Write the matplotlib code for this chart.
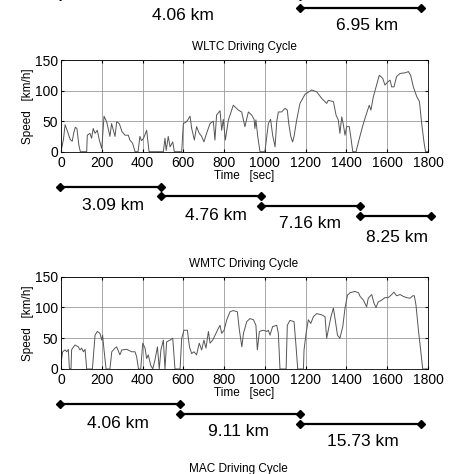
import numpy as np
import matplotlib.pyplot as plt
from matplotlib.lines import Line2D

plt.rcParams['font.family'] = ['Liberation Sans', 'DejaVu Sans']

# WLTC speed trace (sec, km/h)
wltc_t = [0, 12, 20, 30, 45, 55, 62, 70, 78, 88, 95, 126, 129, 142, 150, 158, 167, 178, 188, 200,
          211, 224, 240, 248, 265, 273, 286, 299, 314, 330, 338, 351, 363, 378, 387, 395, 405, 420, 432,
          502, 510, 516, 526, 535, 548, 556, 592, 600, 616, 633, 641, 654, 665, 678, 690, 701, 714, 731,
          747, 755, 763, 780, 788, 796, 806, 821, 845, 870, 886, 902, 919, 935, 947, 951, 956, 965, 976,
          1000, 1017, 1028, 1038, 1050, 1058, 1066, 1082, 1099, 1110, 1117, 1127, 1136, 1143, 1156, 1172,
          1197, 1230, 1254, 1279, 1303, 1311, 1336, 1349, 1360, 1368, 1377, 1385, 1393, 1401, 1414, 1421,
          1431, 1447, 1466, 1483, 1499, 1512, 1520, 1532, 1548, 1561, 1578, 1589, 1602, 1614, 1622, 1633,
          1646, 1663, 1687, 1704, 1715, 1728, 1745, 1758, 1769, 1781, 1788, 1800]
wltc_v = [0, 20, 44, 35, 20, 17, 30, 40, 38, 10, 0, 0, 27, 30, 22, 38, 30, 35, 19, 5,
          58, 49, 25, 46, 25, 49, 46, 33, 27, 27, 19, 14, 0, 0, 25, 18, 22, 35, 0,
          0, 22, 2, 25, 8, 16, 0, 0, 46, 49, 58, 38, 19, 41, 30, 25, 16, 30, 46,
          50, 19, 60, 67, 35, 53, 19, 52, 76, 68, 65, 41, 65, 60, 53, 38, 52, 25, 0,
          0, 46, 53, 27, 8, 49, 65, 65, 71, 68, 46, 25, 16, 25, 52, 79,
          94, 101, 98, 87, 79, 84, 82, 60, 52, 30, 57, 44, 27, 41, 41, 25,
          0, 0, 25, 46, 63, 76, 68, 90, 109, 125, 120, 109, 114, 117, 106, 106,
          123, 128, 129, 131, 125, 106, 90, 82, 46, 14, 0, 0]

# WMTC speed trace (sec, km/h)
wmtc_t = [0, 8, 20, 28, 36, 41, 49, 52, 57, 69, 85, 93, 101, 110, 118, 126, 154, 167, 178, 191,
          200, 204, 211, 221, 240, 249, 265, 273, 289, 298, 322, 347, 363, 371, 380, 391, 401, 412,
          420, 428, 440, 450, 461, 473, 482, 490, 502, 510, 518, 535, 548, 559, 584, 592, 603, 620,
          630, 641, 652, 665, 678, 690, 701, 711, 723, 731, 744, 756, 767, 780, 788, 800, 813, 829,
          845, 865, 875, 887, 895, 911, 927, 944, 956, 963, 973, 992, 1009, 1017, 1025, 1038, 1058,
          1066, 1074, 1104, 1110, 1123, 1143, 1153, 1161, 1189, 1192, 1202, 1213, 1225, 1238, 1254,
          1279, 1295, 1303, 1311, 1324, 1336, 1344, 1356, 1368, 1382, 1393, 1405, 1418, 1442, 1459,
          1467, 1483, 1499, 1507, 1524, 1535, 1545, 1556, 1573, 1589, 1605, 1622, 1633, 1646, 1663,
          1679, 1695, 1712, 1725, 1733, 1741, 1753, 1764, 1774, 1800]
wmtc_v = [9, 28, 31, 28, 32, 1, 0, 31, 34, 39, 36, 31, 34, 28, 32, 0, 0, 55, 61, 58,
          47, 55, 31, 0, 0, 28, 34, 36, 23, 31, 32, 28, 28, 20, 0, 0, 42, 34,
          17, 23, 6, 0, 15, 36, 0, 31, 47, 0, 44, 47, 50, 0, 0, 50, 63, 63,
          36, 25, 28, 23, 42, 31, 47, 34, 61, 42, 47, 55, 63, 71, 58, 63, 80, 93,
          95, 93, 63, 36, 58, 77, 82, 80, 71, 31, 61, 63, 61, 63, 55, 69, 71,
          58, 0, 0, 71, 79, 77, 36, 0, 0, 31, 58, 80, 74, 85, 90,
          88, 85, 50, 63, 85, 99, 82, 55, 50, 69, 99, 120, 124, 126, 124,
          118, 112, 101, 115, 121, 107, 100, 109, 112, 116, 116, 121, 125, 119, 121,
          118, 116, 115, 119, 119, 104, 63, 31, 0, 0]

# distance segments: (x0, x1, y) in figure pixels, labels (x, y, text)
top_segs = [(60, 300, -4), (300, 421, 8)]
top_labels = [(183, 16, '4.06 km'), (367, 26, '6.95 km')]
wltc_segs = [(60, 161, 187), (161, 261, 196), (261, 360, 205.5), (360, 431, 215.5)]
wltc_labels = [(113, 206, '3.09 km'), (216, 216, '4.76 km'), (310, 223, '7.16 km'), (397, 237, '8.25 km')]
wmtc_segs = [(60, 180, 403.5), (180, 300, 414), (300, 421, 423.5)]
wmtc_labels = [(118, 423, '4.06 km'), (238, 432, '9.11 km'), (363, 442, '15.73 km')]

W = H = 474
fig = plt.figure(figsize=(4.74, 4.74), dpi=100)


def fx(px):
    return px / W


def fy(py):
    return 1 - py / H


def speed_axes(top, bottom, t, v, title):
    ax = fig.add_axes([fx(61), fy(bottom), fx(428) - fx(61), (bottom - top) / H])
    ax.plot(t, v, color='#555555', lw=0.7)
    ax.set_xlim(0, 1800)
    ax.set_ylim(0, 150)
    ax.set_xticks(np.arange(0, 1801, 200))
    ax.set_yticks([0, 50, 100, 150])
    ax.grid(True, color='#999999', lw=0.6)
    ax.tick_params(direction='in', length=2.5, labelsize=10, top=True, right=True)
    ax.tick_params(axis='x', pad=3)
    ax.tick_params(axis='y', pad=2)
    for s in ax.spines.values():
        s.set_linewidth(0.6)
    ax.set_xlabel('Time   [sec]', fontsize=8.5, labelpad=0)
    ax.set_ylabel('Speed   [km/h]', fontsize=8.5, labelpad=1)
    fig.text(fx(244), fy(top - 13), title, ha='center', va='center', fontsize=8.5)
    return ax


def segments(segs, labels):
    for x0, x1, y in segs:
        fig.add_artist(Line2D([fx(x0), fx(x1)], [fy(y), fy(y)], color='black', lw=1.6,
                              marker='D', markersize=4.5, transform=fig.transFigure))
    for x, y, s in labels:
        fig.text(fx(x), fy(y), s, ha='center', va='center', fontsize=12.5)


speed_axes(60, 151.7, wltc_t, wltc_v, 'WLTC Driving Cycle')
speed_axes(276.7, 369, wmtc_t, wmtc_v, 'WMTC Driving Cycle')

segments(top_segs, top_labels)
segments(wltc_segs, wltc_labels)
segments(wmtc_segs, wmtc_labels)

fig.text(fx(238), fy(469), 'MAC Driving Cycle', ha='center', va='center', fontsize=8.5)

fig.savefig('out.png', dpi=100)
